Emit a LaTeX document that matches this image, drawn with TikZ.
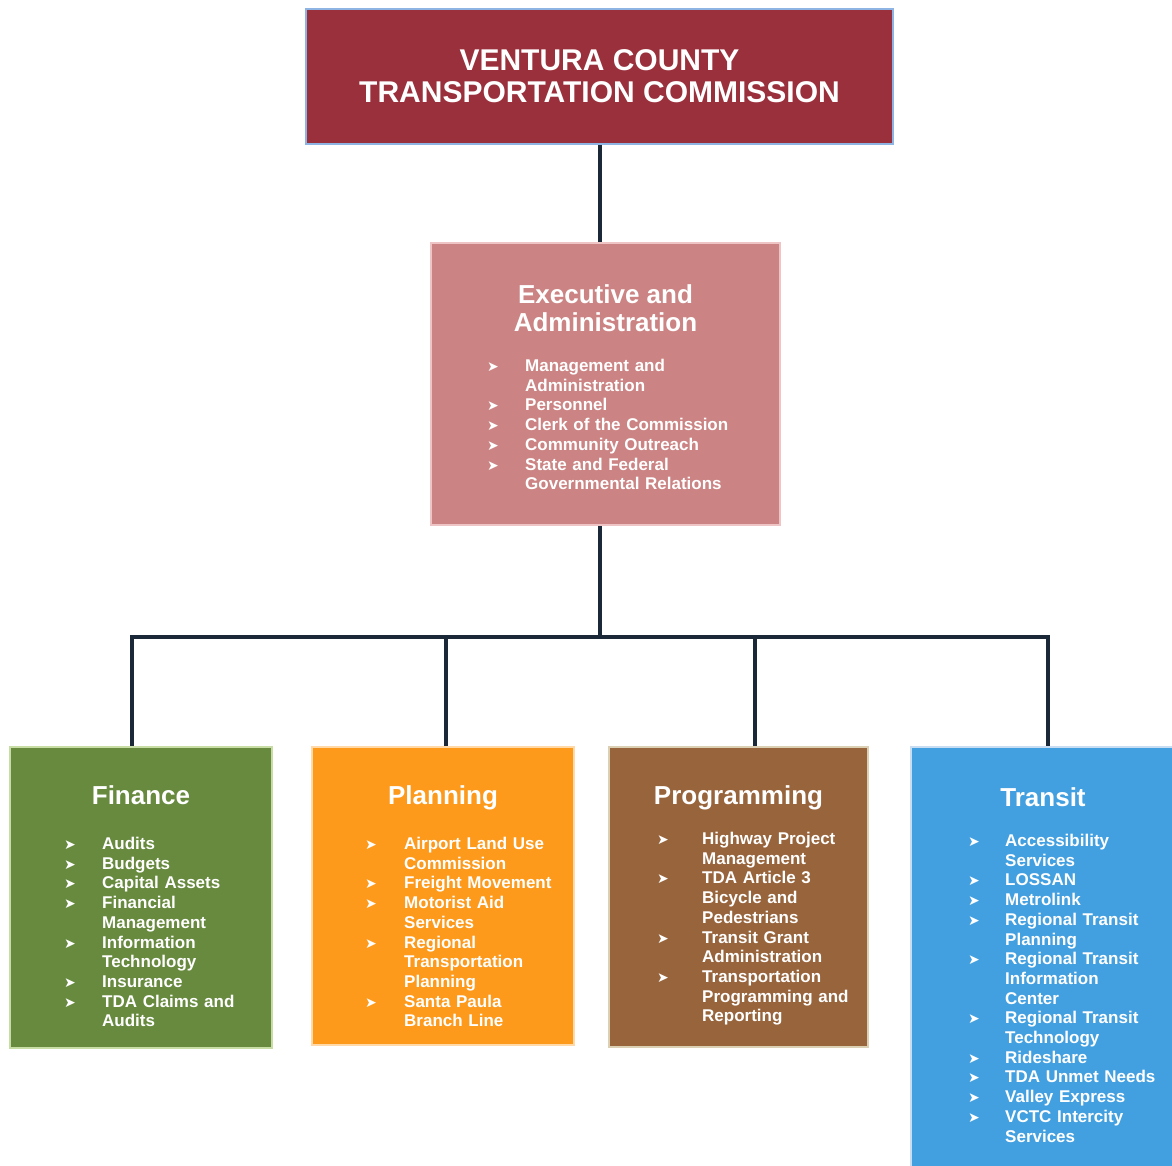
\documentclass[tikz,border=0pt]{standalone}
\usepackage{fontspec}
\setmainfont{Liberation Sans}
\newfontfamily\symfont{DejaVu Sans}
\usetikzlibrary{positioning}
\hyphenpenalty=10000

\definecolor{vctcred}{HTML}{9A303C}
\definecolor{vctcedge}{HTML}{8EB4E3}
\definecolor{execpink}{HTML}{CB8483}
\definecolor{execedge}{HTML}{EEC4C4}
\definecolor{fingreen}{HTML}{678A3E}
\definecolor{finedge}{HTML}{C8DCA6}
\definecolor{plaorange}{HTML}{FD9A1C}
\definecolor{plaedge}{HTML}{FFD9A8}
\definecolor{prgbrown}{HTML}{98643C}
\definecolor{prgedge}{HTML}{DCD0B4}
\definecolor{trablue}{HTML}{43A0E0}
\definecolor{traedge}{HTML}{C9DDF2}
\definecolor{linenavy}{HTML}{1B2838}

\newlength{\bulw}
\newcommand{\bul}{{\symfont\fontsize{14}{14}\selectfont ➤}}
\newcommand{\itm}[1]{\makebox[\bulw][l]{\bul}#1}
\newcommand{\cnt}[1]{\hspace*{\bulw}#1}

\tikzset{
  dept/.style={line width=2pt, inner sep=0pt, anchor=north west},
  conn/.style={draw=linenavy, line width=4pt},
  headtxt/.style={text=white, font=\bfseries\fontsize{26}{28}\selectfont,
    align=center, inner sep=0pt, anchor=north},
  listtxt/.style={text=white, font=\bfseries\fontsize{17}{19.7}\selectfont,
    text width=320pt, align=left, inner sep=0pt, anchor=north west},
}

\begin{document}
\begin{tikzpicture}[x=1pt,y=-1pt]
\useasboundingbox (0,0) rectangle (1172,1165);

% boxes
\node[dept, draw=vctcedge, fill=vctcred, minimum width=587pt, minimum height=135pt,
  text=white, align=center, font=\bfseries\fontsize{30}{32}\selectfont] (vctc) at (305,8)
  {VENTURA COUNTY\\TRANSPORTATION COMMISSION};
\node[dept, draw=execedge, fill=execpink, minimum width=349pt, minimum height=282pt] (exec) at (430,242) {};
\node[dept, draw=finedge, fill=fingreen, minimum width=262pt, minimum height=301pt] (fin) at (9,746) {};
\node[dept, draw=plaedge, fill=plaorange, minimum width=262pt, minimum height=298pt] (pla) at (311,746) {};
\node[dept, draw=prgedge, fill=prgbrown, minimum width=259pt, minimum height=300pt] (prg) at (608,746) {};
\node[dept, draw=traedge, fill=trablue, minimum width=264pt, minimum height=422pt] (tra) at (910,746) {};

% connectors
\coordinate (bus) at (600,637);
\coordinate (finTop) at ([xshift=-9pt]fin.north);
\coordinate (plaTop) at ([xshift=3pt]pla.north);
\coordinate (prgTop) at ([xshift=16pt]prg.north);
\coordinate (traTop) at ([xshift=5pt]tra.north);
\draw[conn] (vctc.south) -- (vctc.south |- exec.north);
\draw[conn] (bus |- exec.south) -- (bus);
\draw[conn] (finTop) |- (bus) -| (traTop);
\draw[conn] (plaTop) -- (plaTop |- bus);
\draw[conn] (prgTop) -- (prgTop |- bus);

% executive
\node[headtxt] (execT) at ([yshift=-42pt]exec.north) {Executive and\\Administration};
\node[listtxt] (execL) at ([xshift=57pt,yshift=-117pt]exec.north west)
  {\setlength{\bulw}{38pt}%
   \itm{Management and}\\\cnt{Administration}\\\itm{Personnel}\\
   \itm{Clerk of the Commission}\\\itm{Community Outreach}\\
   \itm{State and Federal}\\\cnt{Governmental Relations}};

% finance
\node[headtxt] (finT) at ([yshift=-39pt]fin.north) {Finance};
\node[listtxt] (finL) at ([xshift=55pt,yshift=-91pt]fin.north west)
  {\setlength{\bulw}{38pt}%
   \itm{Audits}\\\itm{Budgets}\\\itm{Capital Assets}\\
   \itm{Financial}\\\cnt{Management}\\\itm{Information}\\\cnt{Technology}\\
   \itm{Insurance}\\\itm{TDA Claims and}\\\cnt{Audits}};

% planning
\node[headtxt] (plaT) at ([yshift=-39pt]pla.north) {Planning};
\node[listtxt] (plaL) at ([xshift=54pt,yshift=-91pt]pla.north west)
  {\setlength{\bulw}{39pt}%
   \itm{Airport Land Use}\\\cnt{Commission}\\\itm{Freight Movement}\\
   \itm{Motorist Aid}\\\cnt{Services}\\\itm{Regional}\\\cnt{Transportation}\\
   \cnt{Planning}\\\itm{Santa Paula}\\\cnt{Branch Line}};

% programming
\node[headtxt] (prgT) at ([yshift=-39pt]prg.north) {Programming};
\node[listtxt] (prgL) at ([xshift=49pt,yshift=-86pt]prg.north west)
  {\setlength{\bulw}{45pt}%
   \itm{Highway Project}\\\cnt{Management}\\\itm{TDA Article 3}\\
   \cnt{Bicycle and}\\\cnt{Pedestrians}\\\itm{Transit Grant}\\\cnt{Administration}\\
   \itm{Transportation}\\\cnt{Programming and}\\\cnt{Reporting}};

% transit
\node[headtxt] (traT) at ([yshift=-41pt]tra.north) {Transit};
\node[listtxt] (traL) at ([xshift=58pt,yshift=-88pt]tra.north west)
  {\setlength{\bulw}{37pt}%
   \itm{Accessibility}\\\cnt{Services}\\\itm{LOSSAN}\\\itm{Metrolink}\\
   \itm{Regional Transit}\\\cnt{Planning}\\\itm{Regional Transit}\\
   \cnt{Information}\\\cnt{Center}\\\itm{Regional Transit}\\\cnt{Technology}\\
   \itm{Rideshare}\\\itm{TDA Unmet Needs}\\\itm{Valley Express}\\
   \itm{VCTC Intercity}\\\cnt{Services}};

\end{tikzpicture}
\end{document}
